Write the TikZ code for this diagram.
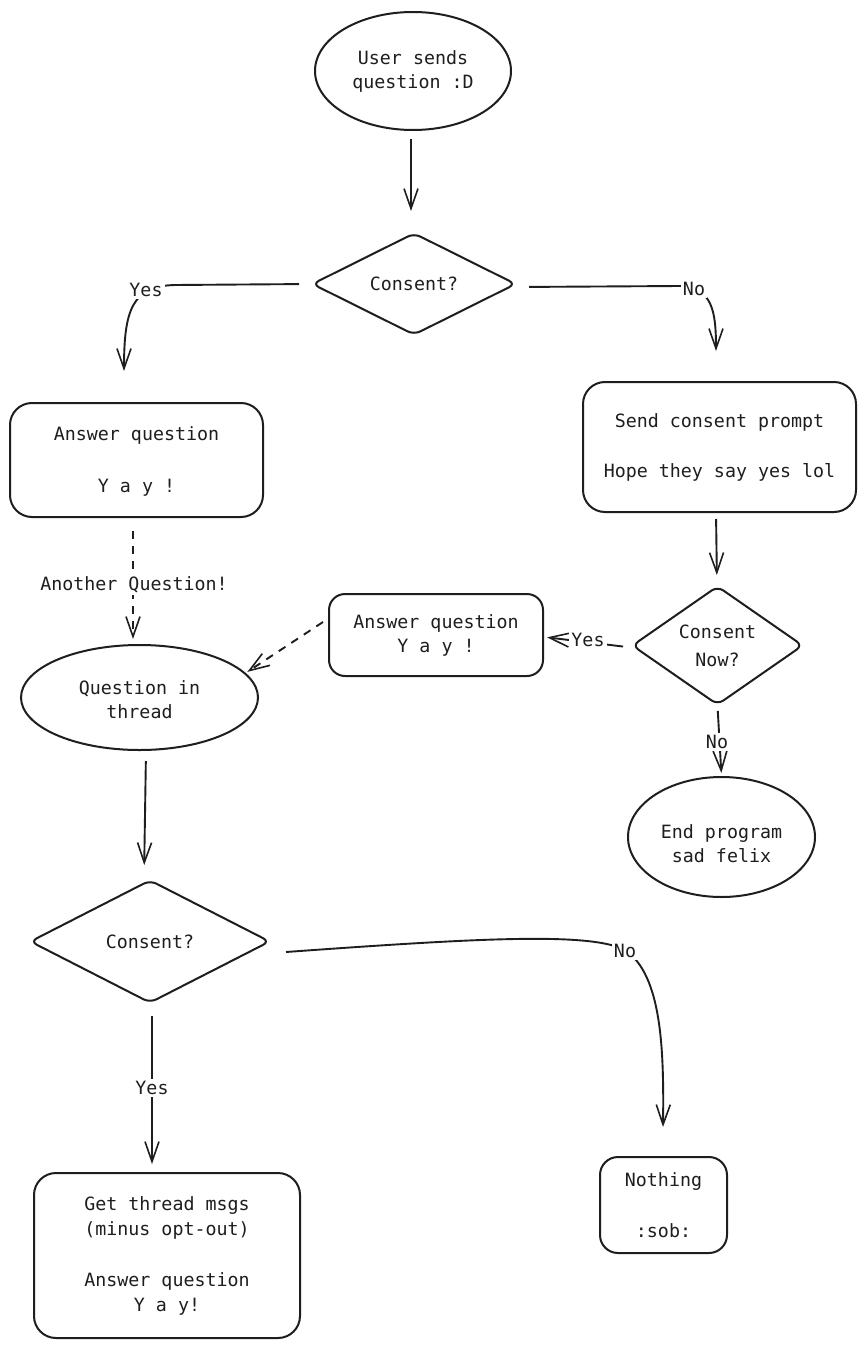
\documentclass[tikz,border=0pt]{standalone}
\usepackage{fontspec}
\setmonofont{DejaVu Sans Mono}
\usetikzlibrary{shapes.geometric,arrows.meta,calc}
\definecolor{ink}{HTML}{1E1E1E}
\definecolor{bg}{HTML}{FFFFFF}
\begin{document}
\begin{tikzpicture}[x=1pt,y=-1pt,
  txt/.style={font=\ttfamily\fontsize{18.3}{24}\selectfont, text=ink, align=center},
  base/.style={txt, draw=ink, line width=2pt, inner sep=0pt},
  oval/.style={base, ellipse},
  box/.style={base, rectangle, rounded corners=22pt},
  choice/.style={base, diamond, rounded corners=7pt},
  arr/.style={draw=ink, line width=1.9pt, -{Straight Barb[length=20pt,width=14pt,line width=1.6pt]}},
  darr/.style={arr, dash pattern=on 8pt off 7pt},
  lbl/.style={txt, fill=bg, inner sep=2pt}
]
\fill[bg] (0,0) rectangle (865,1348);
\useasboundingbox (0,0) rectangle (865,1348);

% nodes
\node[oval, minimum width=196pt, minimum height=118pt] (u) at (413,71) {User sends\\question :D};
\node[choice, minimum width=204pt, minimum height=92pt] (c1) at (414,284) {Consent?};
\node[box, minimum width=253pt, minimum height=114pt] (a1) at (136.5,460) {\rule{0pt}{17pt}Answer question\\[28pt]Y a y !};
\node[box, minimum width=273pt, minimum height=130pt] (s1) at (719.5,447) {Send consent prompt\\[26pt]Hope they say yes lol};
\node[choice, minimum width=171pt, minimum height=115pt] (c2) at (717.5,645.5) {Consent\\[4pt]Now?};
\node[box, minimum width=214pt, minimum height=82pt, rounded corners=16pt] (a2) at (436,635) {Answer question\\Y a y !};
\node[oval, minimum width=237pt, minimum height=105pt] (q) at (139.5,697.5) {\rule{0pt}{19pt}Question in\\thread};
\node[oval, minimum width=187pt, minimum height=120pt] (e) at (721.5,837) {\rule{0pt}{28pt}End program\\sad felix};
\node[choice, minimum width=240pt, minimum height=123pt] (d3) at (150,941.5) {Consent?};
\node[box, minimum width=266pt, minimum height=165pt] (g) at (167,1255.5) {Get thread msgs\\[1pt](minus opt-out)\\[27pt]Answer question\\[1pt]Y a y!};
\node[box, minimum width=127pt, minimum height=96pt, rounded corners=18pt] (n) at (663.5,1205) {Nothing\\[27pt]:sob:};

% connectors
\draw[arr, shorten <=8pt, shorten >=21pt] ($(u.south)+(-2,0)$) -- ($(c1.north)+(-3,0)$);

\draw[arr, shorten <=12pt] (c1.west) -- (175,285) .. controls (132,286) and (124,310) .. ($(a1.north)+(-12.5,-31)$);
\node[lbl] (y1) at (146,290) {Yes};

\draw[arr, shorten <=12pt] ($(c1.east)+(0,3)$) -- (680,286) .. controls (712,288) and (716,310) .. ($(s1.north)+(-3.5,-30)$);
\node[lbl] (n1) at (694,289) {No};

\draw[darr, shorten <=13pt, shorten >=5pt] ($(a1.south)+(-3.5,0)$) -- ($(q.north)+(-6.5,0)$);
\node[lbl] (aq) at (134,585) {Another Question!};

\draw[arr, shorten <=6pt, shorten >=10pt] ($(s1.south)+(-3.5,0)$) -- ($(c2.north)+(-0.5,0)$);

\draw[arr, shorten <=4pt, shorten >=3pt] ($(c2.west)+(-4,1.5)$) -- ($(a2.east)+(0,2)$);
\node[lbl] (y2) at (588,640) {Yes};

\draw[darr, shorten >=2pt] ($(a2.west)+(-5,-13)$) -- (q.13);

\draw[arr, shorten <=5pt, shorten >=3pt] (c2.south) -- (e.north);
\node[lbl] (n2) at (717,742) {No};

\draw[arr, shorten <=10pt, shorten >=14pt] ($(q.south)+(6.5,0)$) -- ($(d3.north)+(-6,0)$);

\draw[arr, shorten <=12pt, shorten >=8pt] ($(d3.south)+(2,0)$) -- ($(g.north)+(-15,0)$);
\node[lbl] (y3) at (152,1088) {Yes};

\draw[arr] ($(d3.east)+(15,10.5)$) .. controls (480,938) and (590,932) .. (625,950) .. controls (662,975) and (664,1050) .. ($(n.north)+(-0.5,-29)$);
\node[lbl] (n3) at (625,951) {No};
\end{tikzpicture}
\end{document}
